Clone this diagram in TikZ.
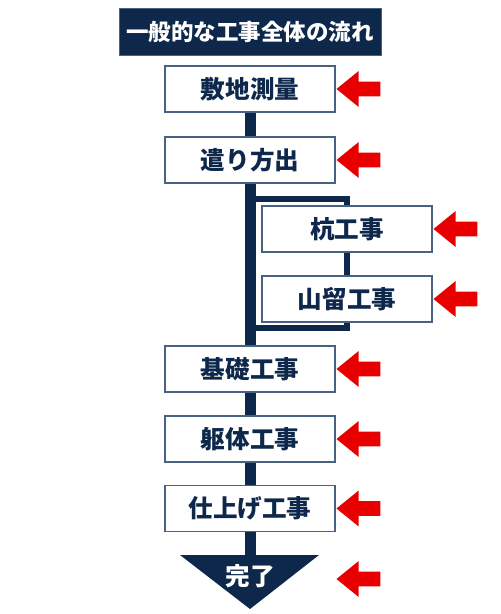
\documentclass[tikz,border=0pt]{standalone}
\usepackage{fontspec}
\setmainfont{Noto Sans CJK JP}
\usepackage{tikz}
\usetikzlibrary{arrows.meta,positioning,shapes.arrows,calc}
\definecolor{navy}{RGB}{14,40,76}
\definecolor{edgeblue}{RGB}{72,98,132}
\definecolor{markred}{RGB}{232,0,0}

\begin{document}
\begin{tikzpicture}[
        x=0.02cm, y=-0.02cm,
        box/.style={draw=edgeblue, line width=0.6pt, fill=white, minimum width=3.4cm, minimum height=0.92cm, text=navy, font=\fontsize{14}{16}\selectfont\bfseries},
        title/.style={draw=edgeblue, fill=navy, text=white, minimum width=5.24cm, minimum height=0.94cm, font=\fontsize{12.8}{14}\selectfont\bfseries},
        spine/.style={navy, line width=0.22cm},
        branch/.style={navy, line width=0.11cm},
        redarrow/.style={single arrow, shape border rotate=180, fill=markred, inner xsep=0pt, inner ysep=0.14cm, minimum height=0.88cm, single arrow head extend=0.21cm, single arrow tip angle=78}
    ]
        \useasboundingbox (0,0) rectangle (500,614);

        % Title
        \node[title] (head) at (250,31.5) {一般的な工事全体の流れ};

        % Spine and branch (behind the boxes)
        \coordinate (tritop) at (250,555);
        \coordinate (bstart) at (250,199);
        \coordinate (bend) at (250,328);
        \draw[spine] (250,112) -- (tritop);
        \draw[branch] (bstart) -| (347,260) |- (bend);

        % Steps
        \node[box] (survey) at (250,89) {敷地測量};
        \node[box] (layout) at (250,160) {遣り方出};
        \node[box] (pile) at (347,229) {杭工事};
        \node[box] (shoring) at (347,299) {山留工事};
        \node[box] (found) at (250,369) {基礎工事};
        \node[box] (frame) at (250,439) {躯体工事};
        \node[box] (finish) at (250,508.5) {仕上げ工事};

        % End
        \fill[navy] (180,555) -- (319,555) -- (250,609) -- cycle;
        \node[text=white, font=\fontsize{14}{16}\selectfont\bfseries] (done) at (250,576) {完了};

        % Arrows
        \node[redarrow] (a1) at (363,89) {};
        \node[redarrow] (a2) at (363,160) {};
        \node[redarrow] (a3) at (460,229) {};
        \node[redarrow] (a4) at (460,299) {};
        \node[redarrow] (a5) at (363,369) {};
        \node[redarrow] (a6) at (363,439) {};
        \node[redarrow] (a7) at (363,508.5) {};
        \node[redarrow] (a8) at (363,579) {};
    \end{tikzpicture}
\end{document}
